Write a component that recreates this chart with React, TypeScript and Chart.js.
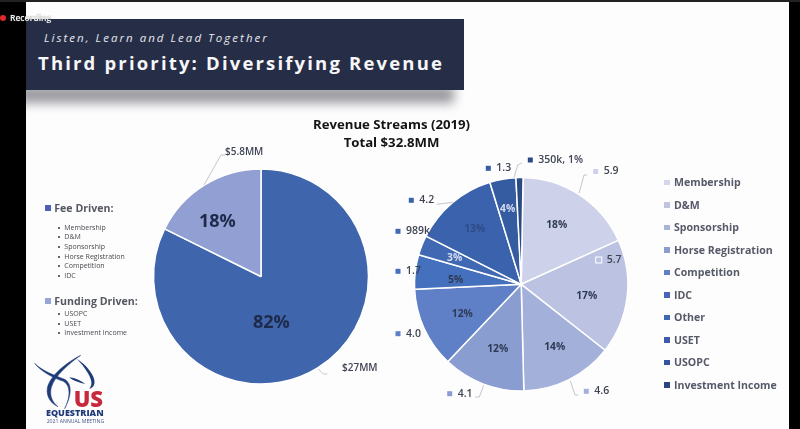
import React, { useEffect, useRef } from "react";
import { Chart, registerables } from "chart.js";

Chart.register(...registerables);

// ---- data ----
const driverCategories = ["Fee Driven", "Funding Driven"];
const driverValues = [27, 5.8];
const driverValueLabels = ["$27MM", "$5.8MM"];
const driverPctLabels = ["82%", "18%"];
const driverColors = ["#3F65AD", "#919FD3"];

const streamCategories = [
  "Membership", "D&M", "Sponsorship", "Horse Registration", "Competition",
  "IDC", "Other", "USET", "USOPC", "Investment Income",
];
const streamValues = [5.9, 5.7, 4.6, 4.1, 4.0, 1.7, 0.989, 4.2, 1.3, 0.35];
const streamValueLabels = ["5.9", "5.7", "4.6", "4.1", "4.0", "1.7", "989k", "4.2", "1.3", "350k, 1%"];
const streamPctLabels = ["18%", "17%", "14%", "12%", "12%", "5%", "3%", "13%", "4%", ""];
const streamColors = [
  "#CDD2EA", "#BCC3E2", "#A3B0DA", "#899DD1", "#5F80C6",
  "#4470BE", "#4068B3", "#3B62AC", "#355BA1", "#2A4A85",
];
const legendSwatches = [
  "#D3D6EC", "#BFC5DF", "#AAB4DB", "#8E9CCD", "#5E80C6",
  "#4A62B8", "#3F68B0", "#4059A8", "#34549E", "#2B4484",
];

const feeItems = ["Membership", "D&M", "Sponsorship", "Horse Registration", "Competition", "IDC"];
const fundingItems = ["USOPC", "USET", "Investment Income"];

// ---- layout of annotations (text placement only) ----
const FONT = '"Open Sans", sans-serif';
type Pt = [number, number];
const streamPctAt: Pt[] = [
  [556.7, 225.3], [586.7, 296], [554.7, 347], [497.7, 349.3], [462.3, 313.7],
  [455.7, 280], [454.7, 258.3], [474.7, 229.3], [507.7, 209.3], [0, 0],
];
const streamPctColor = ["#2F3A55", "#2F3A55", "#2F3A55", "#2F3A55", "#2F3A55", "#2F3A55", "#D5DCF0", "#2F4A85", "#D5DCF0", ""];
const streamCalloutAt: Pt[] = [
  [595.7, 171.5], [598.7, 260], [586.3, 391.3], [449.7, 393.7], [398, 333.7],
  [398, 271.3], [398, 231.3], [411.3, 200.3], [488.3, 168.3], [530.3, 160],
];
const streamLeaders: Pt[][] = [
  [[579, 193.3], [584, 175], [587.3, 175]],
  [],
  [[570.3, 380.7], [575, 395], [578.3, 395]],
  [[483.7, 385.3], [479.3, 397], [475, 397]],
  [], [], [],
  [[452.7, 202.3], [436.7, 204.3]],
  [],
  [[514, 177.7], [517.7, 165], [521.7, 163]],
];
const driverPctAt: Pt[] = [[271.3, 323], [217.3, 222.3]];
const driverCalloutAt: Pt[] = [[342, 368], [225, 151.7]];
const driverLeaders: Pt[][] = [
  [[318.3, 369], [323.3, 374], [327.3, 374]],
  [[204, 185], [221, 155], [225, 155]],
];

const drawLeaders = (ctx: CanvasRenderingContext2D, leaders: Pt[][]) => {
  ctx.strokeStyle = "#B5B8C0";
  ctx.lineWidth = 0.8;
  leaders.forEach((pts) => {
    if (!pts.length) return;
    ctx.beginPath();
    pts.forEach((p, i) => (i ? ctx.lineTo(p[0], p[1]) : ctx.moveTo(p[0], p[1])));
    ctx.stroke();
  });
};

const streamLabelPlugin = {
  id: "streamLabels",
  afterDraw(chart: Chart) {
    const ctx = chart.ctx;
    ctx.save();
    drawLeaders(ctx, streamLeaders);
    ctx.textBaseline = "middle";
    ctx.textAlign = "center";
    ctx.font = `700 10.3px ${FONT}`;
    streamPctLabels.forEach((t, i) => {
      if (!t) return;
      ctx.fillStyle = streamPctColor[i];
      ctx.fillText(t, streamPctAt[i][0], streamPctAt[i][1]);
    });
    ctx.textAlign = "left";
    ctx.font = `600 10.5px ${FONT}`;
    streamValueLabels.forEach((t, i) => {
      const [x, y] = streamCalloutAt[i];
      ctx.fillStyle = streamColors[i];
      ctx.fillRect(x - 2.5, y - 2.5, 5, 5);
      if (i === 1) {
        ctx.strokeStyle = "#FFFFFF";
        ctx.lineWidth = 1;
        ctx.strokeRect(x - 3, y - 3, 6, 6);
      }
      ctx.fillStyle = "#3F4452";
      ctx.fillText(t, x + 8, y);
    });
    ctx.restore();
  },
};

const driverLabelPlugin = {
  id: "driverLabels",
  afterDraw(chart: Chart) {
    const ctx = chart.ctx;
    ctx.save();
    drawLeaders(ctx, driverLeaders);
    ctx.textBaseline = "middle";
    ctx.textAlign = "center";
    ctx.font = `700 18px ${FONT}`;
    ctx.fillStyle = "#1E2A4A";
    driverPctLabels.forEach((t, i) => ctx.fillText(t, driverPctAt[i][0], driverPctAt[i][1]));
    ctx.textAlign = "left";
    ctx.font = `600 10px ${FONT}`;
    ctx.fillStyle = "#3F4452";
    driverValueLabels.forEach((t, i) => ctx.fillText(t, driverCalloutAt[i][0], driverCalloutAt[i][1]));
    ctx.restore();
  },
};

const pieConfig = (
  labels: string[], data: number[], colors: string[], plugin: any,
  cx: number, cy: number, r: number, rotation: number,
): any => {
  const bw = 1.5;
  const half = r + bw / 2;
  return {
    type: "pie",
    data: {
      labels,
      datasets: [{ data, backgroundColor: colors, borderColor: "#FFFFFF", borderWidth: bw }],
    },
    options: {
      responsive: false,
      animation: false,
      rotation,
      layout: {
        padding: { left: cx - half, right: 800 - cx - half, top: cy - half, bottom: 429 - cy - half },
      },
      plugins: { legend: { display: false }, tooltip: { enabled: false } },
    },
    plugins: [plugin],
  };
};

const abs = (o: React.CSSProperties): React.CSSProperties => ({ position: "absolute", whiteSpace: "nowrap", ...o });

const Line = ({ x, cy, size, weight, color, spacing, italic, children }: any) => (
  <div
    style={abs({
      left: x, top: cy - 15, height: 30, lineHeight: "30px", fontFamily: FONT, fontSize: size,
      fontWeight: weight, color, letterSpacing: spacing, fontStyle: italic ? "italic" : "normal",
    })}
  >
    {children}
  </div>
);

export default function App() {
  const driverRef = useRef<HTMLCanvasElement>(null);
  const streamRef = useRef<HTMLCanvasElement>(null);

  useEffect(() => {
    const a = new Chart(
      driverRef.current!,
      pieConfig(driverCategories, driverValues, driverColors, driverLabelPlugin, 261, 276.5, 107.5, 0),
    );
    const b = new Chart(
      streamRef.current!,
      pieConfig(streamCategories, streamValues, streamColors, streamLabelPlugin, 521.2, 284.3, 106.7, 1),
    );
    return () => {
      a.destroy();
      b.destroy();
    };
  }, []);

  const canvasStyle: React.CSSProperties = { position: "absolute", left: 0, top: 0, width: 800, height: 429 };

  return (
    <div style={{ position: "fixed", left: 0, top: 0, width: 800, height: 429, overflow: "hidden", background: "#FDFDFE" }}>
      {/* banner shadow */}
      <div style={{ position: "absolute", left: 18, top: 86, width: 436, height: 17, background: "#96969C", filter: "blur(5.5px)" }} />
      {/* banner */}
      <div style={{ position: "absolute", left: 26, top: 18.5, width: 438, height: 71.5, background: "#262E47" }} />
      <Line x={44} cy={38} size={11.5} weight={400} color="#E6E8EE" spacing={2.03} italic>
        Listen, Learn and Lead Together
      </Line>
      <Line x={38} cy={63} size={18.5} weight={700} color="#F7F7F9" spacing={2.17}>
        Third priority: Diversifying Revenue
      </Line>

      {/* charts */}
      <canvas ref={driverRef} width={800} height={429} style={canvasStyle} />
      <canvas ref={streamRef} width={800} height={429} style={canvasStyle} />

      {/* title */}
      <div style={abs({ left: 291.5, width: 200, top: 115, textAlign: "center", fontFamily: FONT, fontSize: 13.2, fontWeight: 700, lineHeight: "18px", color: "#141414" })}>
        Revenue Streams (2019)
        <br />
        Total $32.8MM
      </div>

      {/* left text */}
      <div style={{ position: "absolute", left: 44.5, top: 205, width: 6, height: 6, background: "#4A62B0" }} />
      <Line x={54.3} cy={208} size={10.6} weight={700} color="#555861">Fee Driven:</Line>
      {feeItems.map((t, i) => (
        <React.Fragment key={t}>
          <div style={{ position: "absolute", left: 57.7, top: 226.7 + i * 9.6, width: 2, height: 2, borderRadius: 1, background: "#333" }} />
          <Line x={64.3} cy={227.7 + i * 9.6} size={7} weight={400} color="#4A4A50">{t}</Line>
        </React.Fragment>
      ))}
      <div style={{ position: "absolute", left: 44.5, top: 298.3, width: 6, height: 6, background: "#97A4D6" }} />
      <Line x={54.3} cy={301} size={10.6} weight={700} color="#555861">Funding Driven:</Line>
      {fundingItems.map((t, i) => (
        <React.Fragment key={t}>
          <div style={{ position: "absolute", left: 57.7, top: 313 + i * 9.5, width: 2, height: 2, borderRadius: 1, background: "#333" }} />
          <Line x={64.3} cy={314 + i * 9.5} size={7} weight={400} color="#4A4A50">{t}</Line>
        </React.Fragment>
      ))}

      {/* right legend */}
      {streamCategories.map((t, i) => (
        <React.Fragment key={t}>
          <div style={{ position: "absolute", left: 664.3, top: 179.6 + i * 22.5, width: 5.5, height: 5.5, background: legendSwatches[i] }} />
          <Line x={674} cy={182.3 + i * 22.5} size={10.6} weight={700} color="#565A68">{t}</Line>
        </React.Fragment>
      ))}

      {/* logo */}
      <svg style={{ position: "absolute", left: 30, top: 350 }} width={85} height={79} viewBox="0 0 255 237">
        <path d="M14 40 C30 62 68 84 100 94 C122 106 122 140 104 176 C122 142 130 104 104 88 C72 76 36 62 14 40 Z" fill="#1F3B78" stroke="#1F3B78" strokeWidth="1.5" />
        <path d="M152 16 C112 36 60 76 52 114 C48 140 62 160 84 170 C66 156 58 136 64 112 C74 78 118 40 152 16 Z" fill="#1F3B78" stroke="#1F3B78" strokeWidth="1.5" />
        <path d="M140 26 C160 40 176 52 190 80 C198 100 192 112 178 116 C188 104 186 92 174 70 C164 52 152 38 140 26 Z" fill="#1F3B78" />
        <path d="M118 82 C136 84 152 92 166 102 C150 98 130 94 118 82 Z" fill="#1F3B78" />
        <text x="131" y="172" fontFamily='"Open Sans", sans-serif' fontWeight={800} fontSize="66" fill="#C8283C">US</text>
        <text x="48" y="199" fontFamily='"Open Sans", sans-serif' fontWeight={800} fontSize="27" fill="#1F3B78">EQUESTRIAN</text>
        <text x="50" y="219" fontFamily='"Open Sans", sans-serif' fontWeight={400} fontSize="15.5" fill="#44588C">2021 ANNUAL MEETING</text>
      </svg>

      {/* window frame */}
      <div style={{ position: "absolute", left: 0, top: 0, width: 26, height: 429, background: "#000" }} />
      <div style={{ position: "absolute", left: 789, top: 0, width: 11, height: 429, background: "#000" }} />
      <div style={{ position: "absolute", left: 0, top: 0, width: 800, height: 2, background: "#222" }} />
      <div style={{ position: "absolute", left: 0, top: 15, width: 6, height: 6, borderRadius: 3, background: "#E0282E" }} />
      <div style={abs({ left: 10, top: 11, lineHeight: "14px", fontFamily: FONT, fontSize: 8.5, fontWeight: 600, color: "#F2F2F2", textShadow: "0 0 1px #777" })}>
        Recording
      </div>
    </div>
  );
}
